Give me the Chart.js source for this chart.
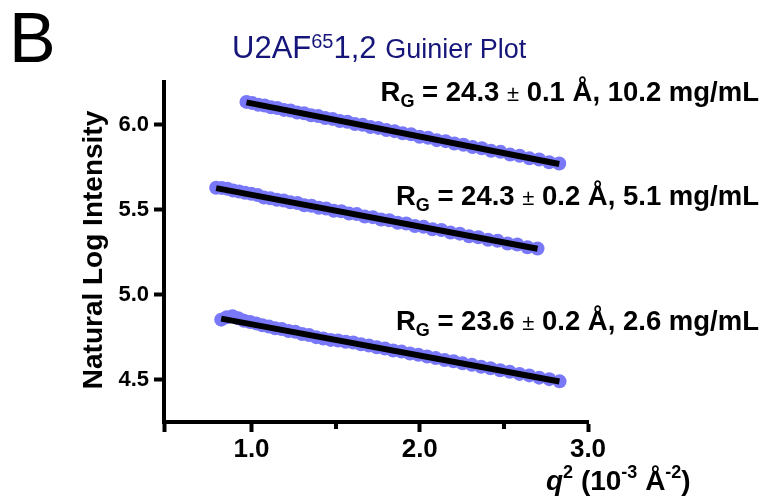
<!DOCTYPE html>
<html>
<head>
<meta charset="utf-8">
<script src="https://cdn.jsdelivr.net/npm/chart.js@4.4.1/dist/chart.umd.min.js"></script>
<style>
  html, body { margin: 0; padding: 0; background: #ffffff; }
  #wrap { width: 768px; height: 499px; position: relative; }
</style>
</head>
<body>
<div id="wrap"><canvas id="c" width="768" height="499"></canvas></div>
<script>
// q^2 values (10^-3 A^-2) and ln I for the three concentrations
const q2_10mg = [0.970, 1.005, 1.041, 1.078, 1.116, 1.154, 1.193, 1.232, 1.272, 1.313, 1.354, 1.396, 1.438, 1.482, 1.525, 1.570, 1.615, 1.661, 1.707, 1.754, 1.802, 1.850, 1.899, 1.949, 1.999, 2.050, 2.101, 2.154, 2.206, 2.260, 2.314, 2.369, 2.424, 2.480, 2.537, 2.594, 2.652, 2.710, 2.769, 2.829];
const lnI_10mg = [6.133, 6.126, 6.116, 6.112, 6.101, 6.097, 6.086, 6.082, 6.070, 6.066, 6.054, 6.050, 6.038, 6.033, 6.021, 6.016, 6.003, 5.998, 5.985, 5.980, 5.967, 5.961, 5.948, 5.942, 5.928, 5.922, 5.908, 5.902, 5.888, 5.881, 5.867, 5.860, 5.845, 5.839, 5.823, 5.816, 5.801, 5.794, 5.778, 5.771];

const q2_5mg = [0.790, 0.823, 0.857, 0.891, 0.926, 0.962, 0.999, 1.036, 1.074, 1.112, 1.151, 1.191, 1.231, 1.273, 1.314, 1.357, 1.400, 1.444, 1.489, 1.534, 1.580, 1.626, 1.673, 1.721, 1.770, 1.819, 1.869, 1.920, 1.971, 2.023, 2.076, 2.129, 2.183, 2.238, 2.293, 2.349, 2.406, 2.463, 2.522, 2.580, 2.640, 2.700];
const lnI_5mg = [5.628, 5.627, 5.622, 5.612, 5.606, 5.598, 5.592, 5.585, 5.571, 5.566, 5.557, 5.553, 5.542, 5.538, 5.525, 5.522, 5.510, 5.506, 5.493, 5.490, 5.476, 5.473, 5.459, 5.455, 5.441, 5.437, 5.422, 5.418, 5.403, 5.398, 5.384, 5.379, 5.364, 5.358, 5.343, 5.337, 5.322, 5.316, 5.300, 5.294, 5.278, 5.271];

const q2_2mg = [0.820, 0.853, 0.887, 0.921, 0.956, 0.992, 1.028, 1.065, 1.103, 1.141, 1.180, 1.220, 1.260, 1.301, 1.342, 1.384, 1.427, 1.471, 1.515, 1.560, 1.605, 1.651, 1.698, 1.745, 1.793, 1.842, 1.892, 1.942, 1.992, 2.044, 2.095, 2.148, 2.201, 2.255, 2.310, 2.365, 2.421, 2.478, 2.535, 2.593, 2.651, 2.710, 2.770, 2.831];
const lnI_2mg = [4.852, 4.866, 4.872, 4.860, 4.846, 4.838, 4.830, 4.819, 4.812, 4.801, 4.797, 4.785, 4.781, 4.768, 4.762, 4.749, 4.741, 4.733, 4.729, 4.722, 4.718, 4.707, 4.700, 4.690, 4.682, 4.671, 4.664, 4.653, 4.646, 4.635, 4.626, 4.615, 4.607, 4.595, 4.587, 4.575, 4.566, 4.554, 4.545, 4.533, 4.524, 4.511, 4.502, 4.489];

// Guinier fit line end points: [x1, y1, x2, y2]
const fit_10mg = [0.970, 6.130, 2.829, 5.768];
const fit_5mg  = [0.790, 5.626, 2.700, 5.269];
const fit_2mg  = [0.820, 4.858, 2.830, 4.488];

// Fit results shown next to each curve
const rgValues  = ['24.3', '24.3', '23.6'];
const rgErrors  = ['0.1', '0.2', '0.2'];
const concLabels = ['10.2 mg/mL', '5.1 mg/mL', '2.6 mg/mL'];

// Axis ticks
const xTicks = [0.48, 1.0, 2.0, 3.0];
const xMinorTicks = [1.5, 2.5];
const xTickLabels = { 1.0: '1.0', 2.0: '2.0', 3.0: '3.0' };
const yTicks = [4.5, 5.0, 5.5, 6.0];

const DOT = '#7878f8';
const pts = (xs, ys) => xs.map((x, i) => ({ x: x, y: ys[i] }));
const seg = f => [{ x: f[0], y: f[1] }, { x: f[2], y: f[3] }];

function pointSet(xs, ys) {
  return { type: 'scatter', data: pts(xs, ys), order: 1, showLine: false,
           pointRadius: 7, pointHoverRadius: 7, pointBackgroundColor: DOT,
           pointBorderWidth: 0, borderColor: DOT };
}
function fitSet(f) {
  return { type: 'line', data: seg(f), order: 0, showLine: true,
           borderColor: '#000000', borderWidth: 6, pointRadius: 0,
           borderCapStyle: 'butt', fill: false, tension: 0 };
}

// draw a run of text pieces, each with its own font and baseline shift
function drawRuns(ctx, runs, x, y, align) {
  let total = 0;
  runs.forEach(r => { ctx.font = r.font; total += ctx.measureText(r.t).width; });
  let cx = align === 'right' ? x - total : (align === 'center' ? x - total / 2 : x);
  runs.forEach(r => {
    ctx.font = r.font;
    ctx.fillStyle = r.color || '#000000';
    ctx.fillText(r.t, cx, y + (r.dy || 0));
    cx += ctx.measureText(r.t).width;
  });
}

const F = 'Liberation Sans, Arial, sans-serif';

const labelsPlugin = {
  id: 'guinierText',
  afterDraw(chart) {
    const ctx = chart.ctx;
    const xs = chart.scales.x;
    ctx.save();

    // short minor ticks on the q^2 axis
    ctx.strokeStyle = '#000000';
    ctx.lineWidth = 4;
    xMinorTicks.forEach(v => {
      const px = Math.round(xs.getPixelForValue(v));
      ctx.beginPath();
      ctx.moveTo(px, chart.chartArea.bottom);
      ctx.lineTo(px, chart.chartArea.bottom + 7);
      ctx.stroke();
    });

    ctx.textBaseline = 'alphabetic';
    ctx.textAlign = 'left';

    // panel letter
    ctx.fillStyle = '#000000';
    ctx.font = '70px ' + F;
    ctx.fillText('B', 9, 62);

    // title
    const navy = '#16167a';
    drawRuns(ctx, [
      { t: 'U2AF', font: '31px ' + F, color: navy },
      { t: '65', font: '20px ' + F, color: navy, dy: -10 },
      { t: '1,2 ', font: '31px ' + F, color: navy },
      { t: 'Guinier Plot', font: '27px ' + F, color: navy }
    ], 232, 58, 'left');

    // Rg annotations
    const baseY = [101, 205, 330];
    for (let i = 0; i < 3; i++) {
      drawRuns(ctx, [
        { t: 'R', font: 'bold 27.5px ' + F },
        { t: 'G', font: 'bold 18px ' + F, dy: 6 },
        { t: ' = ' + rgValues[i] + ' ', font: 'bold 27.5px ' + F },
        { t: '\u00B1', font: '22px ' + F },
        { t: ' ' + rgErrors[i] + ' \u00C5, ' + concLabels[i], font: 'bold 27.5px ' + F }
      ], 759, baseY[i], 'right');
    }

    // y axis title
    ctx.save();
    ctx.translate(102, 250);
    ctx.rotate(-Math.PI / 2);
    ctx.fillStyle = '#000000';
    ctx.font = 'bold 28px ' + F;
    ctx.textAlign = 'center';
    ctx.fillText('Natural Log Intensity', 0, 0);
    ctx.restore();

    // x axis title
    ctx.textAlign = 'left';
    drawRuns(ctx, [
      { t: 'q', font: 'italic bold 28px ' + F },
      { t: '2', font: 'bold 18px ' + F, dy: -12 },
      { t: ' (10', font: 'bold 28px ' + F },
      { t: '-3', font: 'bold 18px ' + F, dy: -12 },
      { t: ' \u00C5', font: 'bold 28px ' + F },
      { t: '-2', font: 'bold 18px ' + F, dy: -12 },
      { t: ')', font: 'bold 28px ' + F }
    ], 546, 490, 'left');
    ctx.restore();
  }
};

new Chart(document.getElementById('c'), {
  data: {
    datasets: [
      fitSet(fit_10mg), fitSet(fit_5mg), fitSet(fit_2mg),
      pointSet(q2_10mg, lnI_10mg), pointSet(q2_5mg, lnI_5mg), pointSet(q2_2mg, lnI_2mg)
    ]
  },
  options: {
    responsive: false,
    animation: false,
    events: [],
    layout: { padding: { left: 0, top: 82, right: 180, bottom: 0 } },
    plugins: { legend: { display: false }, tooltip: { enabled: false }, title: { display: false } },
    scales: {
      x: {
        type: 'linear', min: 0.48, max: 3.0,
        border: { display: true, color: '#000000', width: 4 },
        grid: { display: true, drawOnChartArea: false, drawTicks: true, tickLength: 10, tickWidth: 4, tickColor: '#000000' },
        afterBuildTicks: s => { s.ticks = xTicks.map(v => ({ value: v })); },
        afterFit: s => { s.height = 77; },
        ticks: {
          autoSkip: false, maxRotation: 0, padding: 2, color: '#000000',
          font: { family: F, size: 26, weight: 'bold' },
          callback: v => xTickLabels[v] || ''
        }
      },
      y: {
        type: 'linear', min: 4.25, max: 6.25,
        border: { display: true, color: '#000000', width: 4 },
        grid: { display: true, drawOnChartArea: false, drawTicks: true, tickLength: 10, tickWidth: 4, tickColor: '#000000' },
        afterBuildTicks: s => { s.ticks = yTicks.map(v => ({ value: v })); },
        afterFit: s => { s.width = 164; },
        ticks: {
          autoSkip: false, padding: 5, color: '#000000',
          font: { family: F, size: 22, weight: 'bold' },
          callback: v => v.toFixed(1)
        }
      }
    }
  },
  plugins: [labelsPlugin]
});
</script>
</body>
</html>
